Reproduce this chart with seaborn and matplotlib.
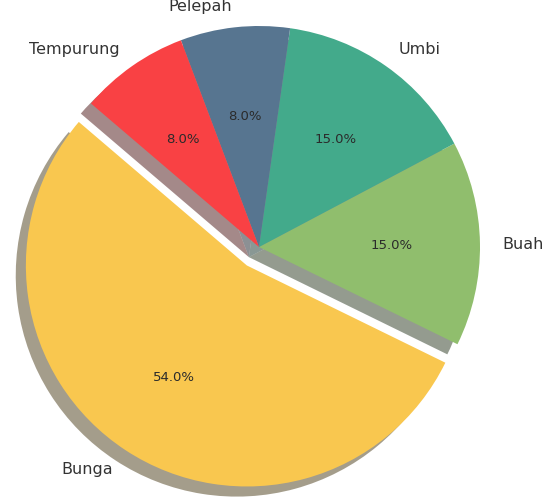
import matplotlib
matplotlib.use('Agg')
import matplotlib.pyplot as plt
import seaborn as sns

sns.set_style("white")
plt.rcParams['font.family'] = ['DejaVu Sans']

# data
labels = ['Bunga', 'Buah', 'Umbi', 'Pelepah', 'Tempurung']
sizes = [54, 15, 15, 8, 8]
colors = ['#F9C74F', '#90BE6D', '#43AA8B', '#577590', '#F94144']
explode = [0.1, 0, 0, 0, 0]

fig = plt.figure(figsize=(5.44, 5.02), dpi=100)
ax = fig.add_axes([0, 0, 1, 1])

wedges, texts, autotexts = ax.pie(
    sizes, labels=labels, colors=colors, explode=explode,
    autopct='%1.1f%%', startangle=139.5, shadow={'ox': -0.033, 'oy': -0.033},
    labeldistance=1.1, pctdistance=0.6,
    wedgeprops={'linewidth': 0, 'edgecolor': 'none'},
    textprops={'fontsize': 11.5, 'color': '#333333'})
for t in autotexts:
    t.set_fontsize(9.5)
    t.set_color('#2b2b2b')

# place the pie: centre at (259, 248) px, radius 221 px
r = 221.0
cx, cy = 259, 248
ax.set_aspect('auto')
ax.set_xlim(-cx / r, (544 - cx) / r)
ax.set_ylim(-(502 - cy) / r, cy / r)
ax.axis('off')

fig.savefig('out.png', dpi=100)
